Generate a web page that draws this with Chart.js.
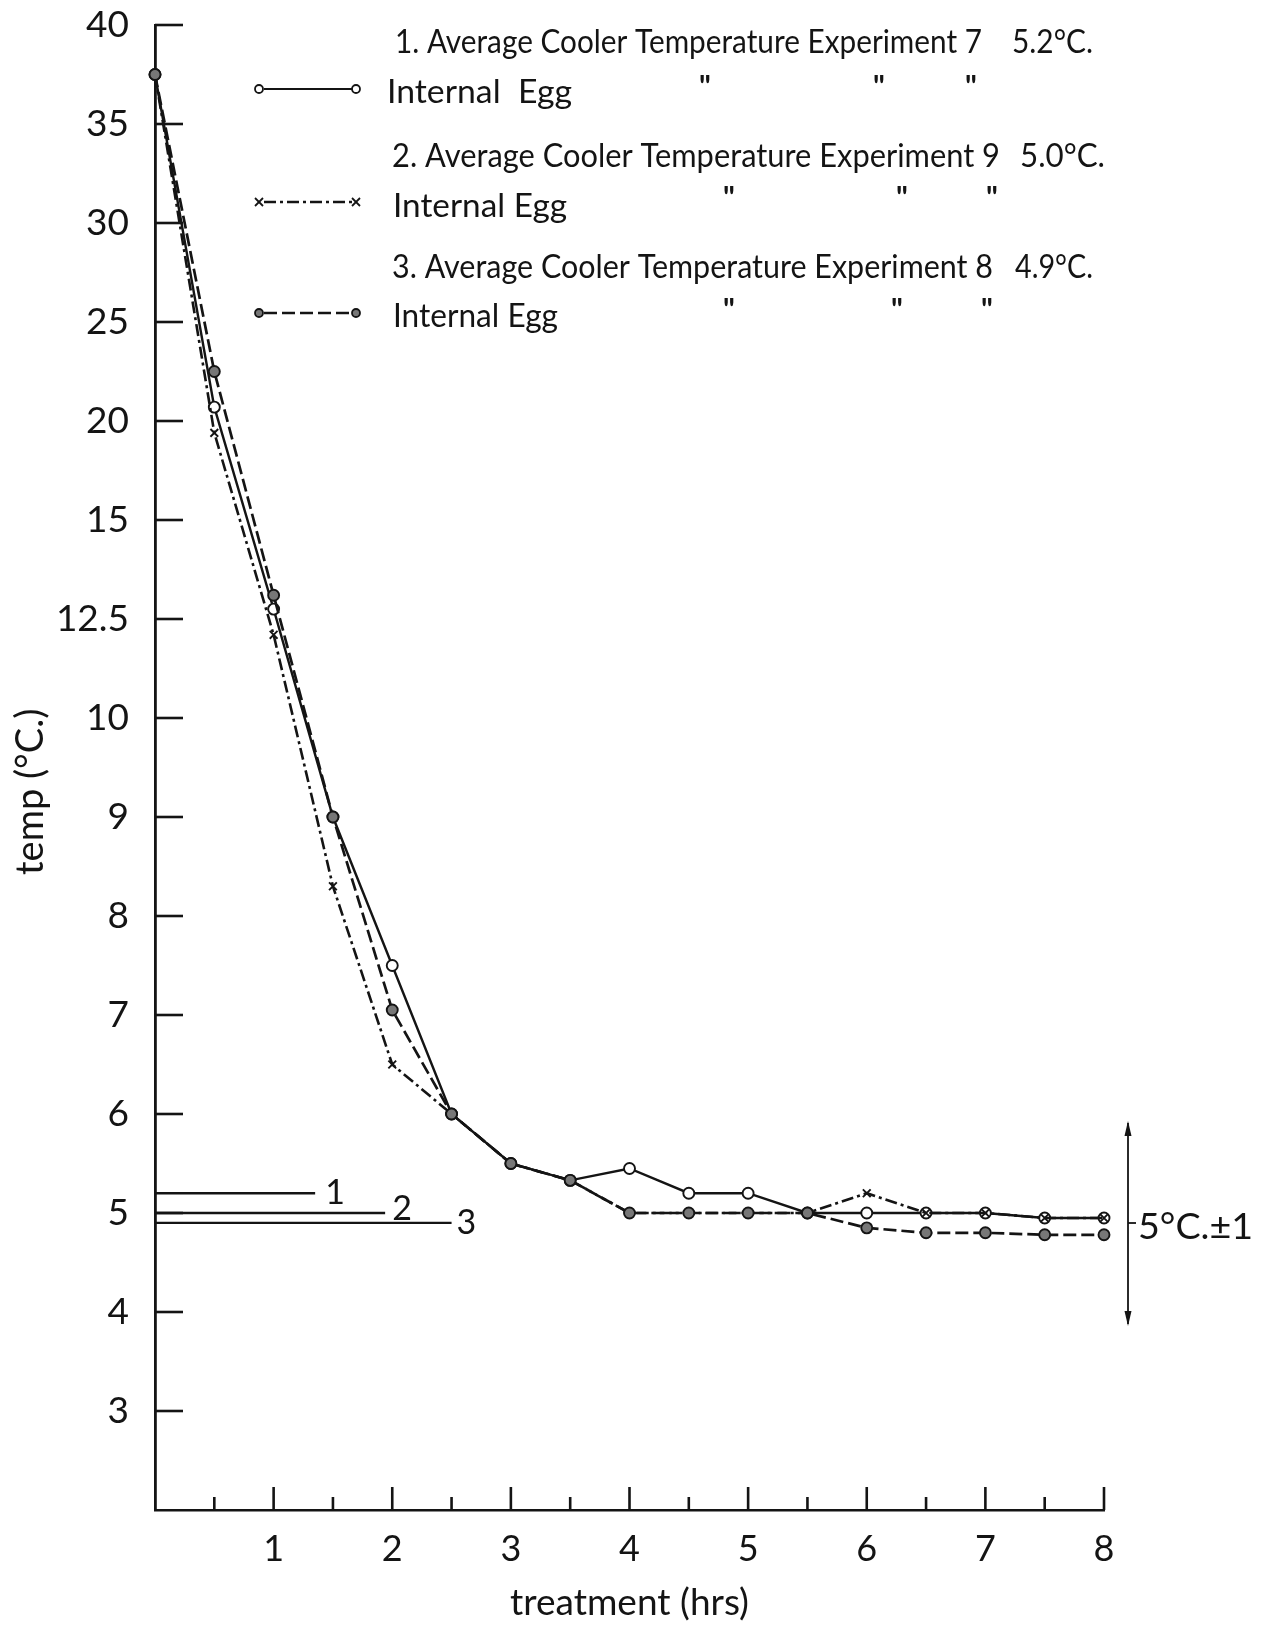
<!DOCTYPE html>
<html>
<head>
<meta charset="utf-8">
<script src="https://cdn.jsdelivr.net/npm/chart.js@4.4.1/dist/chart.umd.min.js"></script>
<style>
  html, body { margin: 0; padding: 0; background: #ffffff; }
  #wrap { width: 1265px; height: 1628px; }
</style>
</head>
<body>
<div id="wrap"><canvas id="c" width="1265" height="1628"></canvas></div>
<script>
// ---------------- data ----------------
const hours = [0, 0.5, 1, 1.5, 2, 2.5, 3, 3.5, 4, 4.5, 5, 5.5, 6, 6.5, 7, 7.5, 8];
const exp7Egg = [37.5, 20.7, 12.75, 9.0, 7.5, 6.0, 5.5, 5.33, 5.45, 5.2, 5.2, 5.0, 5.0, 5.0, 5.0, 4.95, 4.95];
const exp9Egg = [37.5, 19.4, 12.1, 8.3, 6.5, 6.0, 5.5, 5.33, 5.0, 5.0, 5.0, 5.0, 5.2, 5.0, 5.0, 4.95, 4.95];
const exp8Egg = [37.5, 22.5, 13.1, 9.0, 7.05, 6.0, 5.5, 5.33, 5.0, 5.0, 5.0, 5.0, 4.85, 4.8, 4.8, 4.78, 4.78];
const experiments = ['7', '9', '8'];
const coolerTemps = [5.2, 5.0, 4.9];
const yTickValues = [2, 3, 4, 5, 6, 7, 8, 9, 10, 12.5, 15, 20, 25, 30, 35, 40];
const yTickLabels = ['', '3', '4', '5', '6', '7', '8', '9', '10', '12.5', '15', '20', '25', '30', '35', '40'];
const xTickValues = [0, 1, 2, 3, 4, 5, 6, 7, 8];
const xTickLabels = ['', '1', '2', '3', '4', '5', '6', '7', '8'];
const tolerance = [4, 6];
const toleranceLabel = '5°C.±1';
const xTitle = 'treatment (hrs)';
const yTitle = 'temp (°C.)';

// ---------------- styles ----------------
const INK = '#141414';
const FONT = 'Lato, "Open Sans", "DejaVu Sans", sans-serif';
const styles = [
  { dash: [], width: 2.4, point: 'circle', fill: '#ffffff' },
  { dash: [12, 4, 3, 4], width: 2.6, point: 'crossRot', fill: INK },
  { dash: [13, 5], width: 2.7, point: 'circle', fill: '#777777' }
];
const refLineEnds = [1.35, 1.94, 2.5];

// ---------------- segmented (uneven) temperature scale ----------------
function tempToIndex(v) {
  const t = yTickValues, n = t.length - 1;
  if (v <= t[0]) return (v - t[0]) / (t[1] - t[0]);
  for (let i = 0; i < n; i++) if (v <= t[i + 1]) return i + (v - t[i]) / (t[i + 1] - t[i]);
  return n + (v - t[n]) / (t[n] - t[n - 1]);
}
function indexToTemp(k) {
  const t = yTickValues, n = t.length - 1;
  const i = Math.max(0, Math.min(n - 1, Math.floor(k)));
  return t[i] + (k - i) * (t[i + 1] - t[i]);
}
class SegmentedScale extends Chart.LinearScale {
  determineDataLimits() {
    this.min = yTickValues[0];
    this.max = yTickValues[yTickValues.length - 1];
  }
  buildTicks() { return yTickValues.map(v => ({ value: v })); }
  getPixelForValue(v) { return this.getPixelForDecimal(tempToIndex(v) / (yTickValues.length - 1)); }
  getValueForPixel(p) { return indexToTemp(this.getDecimalForPixel(p) * (yTickValues.length - 1)); }
}
SegmentedScale.id = 'segmented';
SegmentedScale.defaults = Chart.LinearScale.defaults;
Chart.register(SegmentedScale);

// ---------------- helpers ----------------
function seg(ctx, x1, y1, x2, y2) { ctx.beginPath(); ctx.moveTo(x1, y1); ctx.lineTo(x2, y2); ctx.stroke(); }
function fitText(ctx, text, x, y, width, size) {
  ctx.font = size + 'px ' + FONT;
  const w = ctx.measureText(text).width;
  ctx.save(); ctx.translate(x, y); ctx.scale(width / w, 1); ctx.fillText(text, 0, 0); ctx.restore();
}
function marker(ctx, st, px, py, r) {
  ctx.save(); ctx.setLineDash([]); ctx.lineWidth = 1.8; ctx.strokeStyle = INK;
  if (st.point === 'crossRot') {
    seg(ctx, px - r, py - r, px + r, py + r); seg(ctx, px - r, py + r, px + r, py - r);
  } else {
    ctx.beginPath(); ctx.arc(px, py, r, 0, Math.PI * 2); ctx.fillStyle = st.fill; ctx.fill(); ctx.stroke();
  }
  ctx.restore();
}

const legendLayout = [
  { headX: 395, headY: 53, headW: 587, tempX: 1012, tempW: 81, eggX: 387, eggY: 103, eggW: 185, ditto: [705, 879, 971], dittoY: 97, sampleY: 89 },
  { headX: 392, headY: 167, headW: 608, tempX: 1020, tempW: 85, eggX: 393, eggY: 217, eggW: 174, ditto: [729, 902, 992], dittoY: 208, sampleY: 202 },
  { headX: 392, headY: 278, headW: 601, tempX: 1015, tempW: 78, eggX: 393, eggY: 327, eggW: 165, ditto: [729, 897, 987], dittoY: 320, sampleY: 313 }
];

const annotate = {
  id: 'annotate',
  beforeDatasetsDraw(chart) {
    const { ctx, scales: { x, y } } = chart;
    ctx.save(); ctx.strokeStyle = INK; ctx.lineWidth = 2.6;
    yTickValues.slice(1).forEach(v => { const py = y.getPixelForValue(v); seg(ctx, x.left, py, x.left + 28, py); });
    hours.slice(1).forEach(h => {
      const px = x.getPixelForValue(h);
      seg(ctx, px, y.bottom, px, y.bottom - (Number.isInteger(h) ? 23 : 13));
    });
    ctx.restore();
  },
  afterDraw(chart) {
    const { ctx, scales: { x, y } } = chart;
    ctx.save();
    ctx.fillStyle = INK; ctx.strokeStyle = INK; ctx.textAlign = 'left'; ctx.textBaseline = 'alphabetic';
    // legend block
    legendLayout.forEach((r, i) => {
      fitText(ctx, (i + 1) + '. Average Cooler Temperature Experiment ' + experiments[i], r.headX, r.headY, r.headW, 33);
      fitText(ctx, coolerTemps[i].toFixed(1) + '°C.', r.tempX, r.headY, r.tempW, 33);
      fitText(ctx, i === 0 ? 'Internal  Egg' : 'Internal Egg', r.eggX, r.eggY, r.eggW, 33);
      ctx.font = 'bold 30px ' + FONT; ctx.textAlign = 'center';
      r.ditto.forEach(dx => ctx.fillText('"', dx, r.dittoY));
      ctx.textAlign = 'left';
      const st = styles[i];
      ctx.save(); ctx.lineWidth = st.width * 0.9; ctx.setLineDash(st.dash);
      seg(ctx, 264, r.sampleY, 352, r.sampleY);
      ctx.restore();
      marker(ctx, st, 259, r.sampleY, 4); marker(ctx, st, 356, r.sampleY, 4);
    });
    // reference line numbers
    ctx.font = '34px ' + FONT; ctx.textBaseline = 'middle';
    const gaps = [10, 7, 5], lift = [0, -4, 0];
    coolerTemps.forEach((t, i) => {
      ctx.fillText(String(i + 1), x.getPixelForValue(refLineEnds[i]) + gaps[i], y.getPixelForValue(t) + lift[i]);
    });
    // tolerance arrow
    const ax = x.right + 24;
    const yTop = y.getPixelForValue(tolerance[1]) + 9, yBot = y.getPixelForValue(tolerance[0]) + 12;
    ctx.lineWidth = 1.8;
    seg(ctx, ax, yTop, ax, yBot);
    ctx.beginPath(); ctx.moveTo(ax, yTop - 2); ctx.lineTo(ax - 3.5, yTop + 13); ctx.lineTo(ax + 3.5, yTop + 13); ctx.closePath(); ctx.fill();
    ctx.beginPath(); ctx.moveTo(ax, yBot + 2); ctx.lineTo(ax - 3.5, yBot - 13); ctx.lineTo(ax + 3.5, yBot - 13); ctx.closePath(); ctx.fill();
    const ym = y.getPixelForValue((tolerance[0] + tolerance[1]) / 2) + 10;
    seg(ctx, ax, ym, ax + 8, ym);
    ctx.textBaseline = 'alphabetic';
    fitText(ctx, toleranceLabel, ax + 10, ym + 16, 115, 36);
    ctx.restore();
  }
};

function series(vals, i, order) {
  const st = styles[i];
  return {
    data: hours.map((h, k) => ({ x: h, y: vals[k] })),
    borderColor: INK, borderWidth: st.width, borderDash: st.dash,
    pointStyle: st.point, pointRadius: 5.5, pointBorderWidth: 1.9,
    pointBorderColor: INK, pointBackgroundColor: st.fill,
    tension: 0, fill: false, clip: false, order: order
  };
}
function refLine(t, i) {
  return {
    data: [{ x: 0, y: t }, { x: refLineEnds[i], y: t }],
    borderColor: INK, borderWidth: 2.4, pointRadius: 0, tension: 0, fill: false, clip: false, order: 3
  };
}

new Chart(document.getElementById('c'), {
  type: 'line',
  data: {
    datasets: [
      series(exp8Egg, 2, 0),
      series(exp9Egg, 1, 1),
      series(exp7Egg, 0, 2),
      ...coolerTemps.map(refLine)
    ]
  },
  options: {
    responsive: false, animation: false, events: [],
    layout: { padding: { left: 0, right: 161, top: 25, bottom: 0 } },
    plugins: { legend: { display: false }, tooltip: { enabled: false } },
    scales: {
      x: {
        type: 'linear', min: 0, max: 8,
        afterBuildTicks: s => { s.ticks = xTickValues.map(v => ({ value: v })); },
        afterFit: s => { s.height = 118; s.paddingLeft = 0; s.paddingRight = 0; },
        grid: { display: false, drawTicks: false },
        border: { display: true, color: INK, width: 2.6 },
        ticks: {
          autoSkip: false, maxRotation: 0, padding: 18, color: INK,
          font: { family: FONT, size: 36 },
          callback: v => { const k = xTickValues.indexOf(v); return k < 0 ? '' : xTickLabels[k]; }
        },
        title: { display: true, text: xTitle, color: INK, font: { family: FONT, size: 37 }, padding: { top: 0, bottom: 3 } }
      },
      y: {
        type: 'segmented', position: 'left',
        afterFit: s => { s.width = 155; s.paddingTop = 0; s.paddingBottom = 0; },
        grid: { display: false, drawTicks: false },
        border: { display: true, color: INK, width: 2.8 },
        ticks: {
          autoSkip: false, padding: 26, color: INK,
          font: { family: FONT, size: 37 },
          callback: v => { const k = yTickValues.indexOf(v); return k < 0 ? '' : yTickLabels[k]; }
        },
        title: { display: true, text: yTitle + '     ', color: INK, font: { family: FONT, size: 38 }, padding: { top: 8, bottom: 0 } }
      }
    }
  },
  plugins: [annotate]
});
</script>
</body>
</html>
